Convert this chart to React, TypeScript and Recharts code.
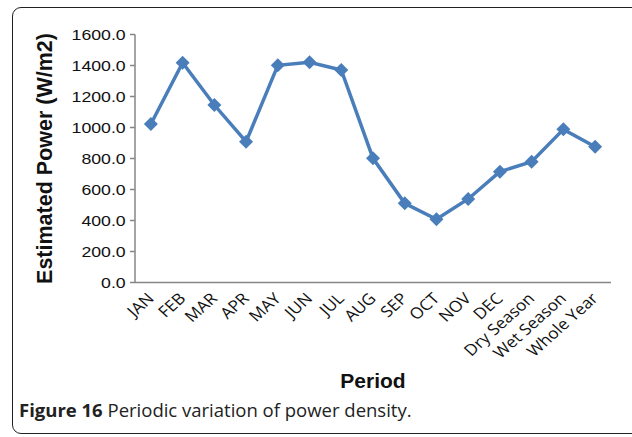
import React from "react";
import { LineChart, Line, XAxis, YAxis, Label } from "recharts";

const periods = ["JAN", "FEB", "MAR", "APR", "MAY", "JUN", "JUL", "AUG", "SEP", "OCT", "NOV", "DEC", "Dry Season", "Wet Season", "Whole Year"];
const powerValues = [1023, 1418, 1145, 908, 1401, 1421, 1371, 801, 511, 408, 539, 715, 779, 988, 876];
const yTicks = [0, 200, 400, 600, 800, 1000, 1200, 1400, 1600];

const data = periods.map((p, i) => ({ period: p, power: powerValues[i] }));

const YTick = (props: any) => {
  const { x, y, payload } = props;
  return (
    <g transform={`translate(${x},${y})`}>
      <text
        transform="scale(1.18,1)"
        x={-2}
        y={0}
        dy={5}
        textAnchor="end"
        fontFamily="'Liberation Sans', Arial, sans-serif"
        fontSize={15}
        fill="#111"
      >
        {Number(payload.value).toFixed(1)}
      </text>
    </g>
  );
};

const XTick = (props: any) => {
  const { x, y, payload } = props;
  return (
    <g transform={`translate(${x + 4},${y + 9})`}>
      <text
        transform="scale(1.12,1) rotate(-45)"
        x={0}
        y={0}
        textAnchor="end"
        fontFamily="'Open Sans', sans-serif"
        fontSize={15.5}
        fill="#111"
      >
        {payload.value}
      </text>
    </g>
  );
};

const Diamond = (props: any) => {
  const { cx, cy } = props;
  if (cx == null || cy == null) return null;
  const r = 7;
  return (
    <path
      d={`M${cx},${cy - r}L${cx + r},${cy}L${cx},${cy + r}L${cx - r},${cy}Z`}
      fill="#4a7ebb"
      stroke="none"
    />
  );
};

export default function App() {
  return (
    <div style={{ position: "absolute", left: 0, top: 0, width: 632, height: 437, background: "#fff" }}>
      <div
        style={{
          position: "absolute",
          left: 12,
          top: 7,
          width: 630,
          height: 427,
          border: "1.5px solid #222",
          borderRadius: 9,
          boxSizing: "border-box",
        }}
      />
      <div style={{ position: "absolute", left: 0, top: 0 }}>
        <LineChart width={632} height={437} data={data} margin={{ top: 34.5, right: 21, bottom: 0, left: 0 }}>
          <XAxis
            dataKey="period"
            interval={0}
            tick={<XTick />}
            tickLine={false}
            padding={{ left: 15.9, right: 15.9 }}
            axisLine={{ stroke: "#868686", strokeWidth: 1.5 }}
            height={154.5}
          >
            <Label
              value="Period"
              position="insideTop"
              offset={91}
              style={{ fontFamily: "'Liberation Sans', Arial, sans-serif", fontWeight: "bold", fontSize: 21, fill: "#111" }}
            />
          </XAxis>
          <YAxis
            domain={[0, 1600]}
            ticks={yTicks}
            interval={0}
            tick={<YTick />}
            tickLine={{ stroke: "#868686", strokeWidth: 1.5 }}
            tickSize={5}
            axisLine={{ stroke: "#868686", strokeWidth: 1.5 }}
            width={135}
          >
            <Label
              value="Estimated Power (W/m2)"
              angle={-90}
              position="insideLeft"
              offset={44}
              style={{ textAnchor: "middle", fontFamily: "'Liberation Sans', Arial, sans-serif", fontWeight: "bold", fontSize: 21.5, fill: "#111" }}
            />
          </YAxis>
          <Line
            type="linear"
            dataKey="power"
            stroke="#4a7ebb"
            strokeWidth={3.5}
            dot={<Diamond />}
            activeDot={false}
            isAnimationActive={false}
          />
        </LineChart>
      </div>
      <div
        style={{
          position: "absolute",
          left: 19,
          top: 397,
          fontFamily: "'Open Sans', sans-serif",
          fontSize: 18.5,
          color: "#222",
          whiteSpace: "nowrap",
        }}
      >
        <b>Figure 16</b> Periodic variation of power density.
      </div>
    </div>
  );
}
